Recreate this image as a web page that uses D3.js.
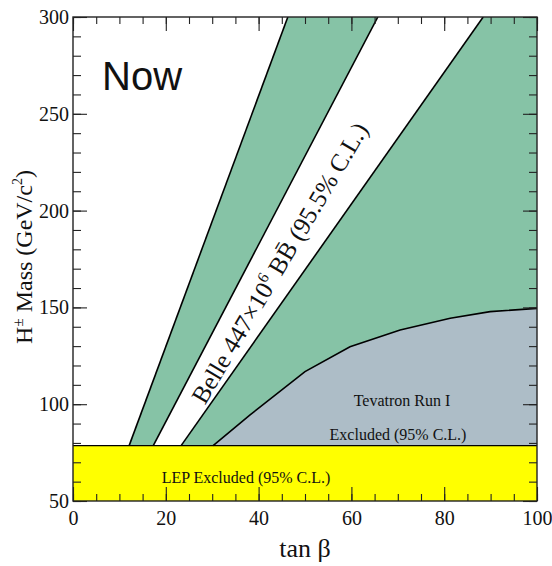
<!DOCTYPE html>
<html>
<head>
<meta charset="utf-8">
<script src="https://cdn.jsdelivr.net/npm/d3@7"></script>
<style>
body { margin: 0; background: #fff; }
text { font-family: "Liberation Serif", "Times New Roman", serif; fill: #111; }
</style>
</head>
<body>
<svg id="chart" width="552" height="566"></svg>
<script>
// values (tan beta, H+ mass)
var lepLimit = 78.6;
var belleLeft = [[12.1, 78.6], [46.3, 300]];
var belleMid = [[17.3, 78.6], [65.7, 300]];
var belleRight = [[23.3, 78.6], [88.4, 300]];
var tevatron = [[30.2, 78.6], [38.1, 94.4], [50.0, 116.8], [59.7, 129.7], [70.5, 138.3], [81.3, 144.4], [89.9, 147.8], [100, 149.5]];
var xTicks = [0, 20, 40, 60, 80, 100];
var yTicks = [50, 100, 150, 200, 250, 300];

var green = '#86c3a6';
var grey = '#adbdc7';
var yellow = '#ffff00';

// plot box (window.top is taken, so own names)
var pLeft = 73, pRight = 537, pTop = 17, pBottom = 501;

var svg = d3.select('#chart');

var x = d3.scaleLinear().domain([0, 100]).range([pLeft, pRight]);
var y = d3.scaleLinear().domain([50, 300]).range([pBottom, pTop]);

var line = d3.line()
    .x(function(d) { return x(d[0]); })
    .y(function(d) { return y(d[1]); });

svg.append('clipPath').attr('id', 'plot')
    .append('rect')
    .attr('x', pLeft).attr('y', pTop)
    .attr('width', pRight - pLeft).attr('height', pBottom - pTop);

var g = svg.append('g').attr('clip-path', 'url(#plot)');

// green band between the first two belle lines
g.append('path')
    .attr('d', line(belleLeft.concat(belleMid.slice().reverse())) + 'Z')
    .attr('fill', green);

// green area right of third line, above tevatron
g.append('path')
    .attr('d', line(belleRight.concat([[100, 300]]).concat(tevatron.slice().reverse())) + 'Z')
    .attr('fill', green);

// tevatron excluded
g.append('path')
    .attr('d', line(tevatron.concat([[100, lepLimit]])) + 'Z')
    .attr('fill', grey);

// LEP excluded
g.append('rect')
    .attr('x', x(0)).attr('y', y(lepLimit))
    .attr('width', x(100) - x(0)).attr('height', y(50) - y(lepLimit))
    .attr('fill', yellow);

// boundary lines
[belleLeft, belleMid, belleRight, tevatron].forEach(function(l) {
    g.append('path')
        .attr('d', line(l))
        .attr('fill', 'none')
        .attr('stroke', '#000')
        .attr('stroke-width', 1.6);
});
g.append('path')
    .attr('d', line([[0, lepLimit], [100, lepLimit]]))
    .attr('stroke', '#000').attr('stroke-width', 1.4);

// ticks on all four sides, pointing in
function ticks(axis, tr, vals, size, labels) {
    var a = svg.append('g').attr('transform', tr)
        .call(axis.tickValues(vals).tickSizeInner(-size).tickSizeOuter(0).tickPadding(labels ? size + 4 : 0));
    a.select('.domain').remove();
    a.selectAll('line').attr('stroke', '#222').attr('stroke-width', 1.1);
    if (!labels) a.selectAll('text').remove();
    return a;
}
var xMinor = d3.range(0, 101, 5), yMinor = d3.range(50, 301, 10);

ticks(d3.axisBottom(x), 'translate(0,' + pBottom + ')', xMinor, 7, false);
ticks(d3.axisTop(x), 'translate(0,' + pTop + ')', xMinor, 7, false);
ticks(d3.axisLeft(y), 'translate(' + pLeft + ',0)', yMinor, 8, false);
ticks(d3.axisRight(y), 'translate(' + pRight + ',0)', yMinor, 8, false);

var xb = ticks(d3.axisBottom(x), 'translate(0,' + pBottom + ')', xTicks, 14, true);
ticks(d3.axisTop(x), 'translate(0,' + pTop + ')', xTicks, 14, false);
var yl = ticks(d3.axisLeft(y), 'translate(' + pLeft + ',0)', yTicks, 14, true);
ticks(d3.axisRight(y), 'translate(' + pRight + ',0)', yTicks, 14, false);

xb.selectAll('text').attr('y', 10).attr('dy', '0.71em')
    .style('font-family', '"Liberation Serif", serif').style('font-size', '20px').attr('fill', '#111');
yl.selectAll('text').attr('x', -4)
    .style('font-family', '"Liberation Serif", serif').style('font-size', '20px').attr('fill', '#111');

// frame
svg.append('rect')
    .attr('x', pLeft).attr('y', pTop)
    .attr('width', pRight - pLeft).attr('height', pBottom - pTop)
    .attr('fill', 'none').attr('stroke', '#222').attr('stroke-width', 1.4);

// axis titles
svg.append('text')
    .attr('x', 305).attr('y', 557)
    .attr('text-anchor', 'middle')
    .style('font-size', '26px')
    .text('tan \u03b2');

var yt = svg.append('text')
    .attr('transform', 'translate(32,257) rotate(-90)')
    .attr('text-anchor', 'middle')
    .style('font-size', '24px');
yt.append('tspan').text('H');
yt.append('tspan').attr('dy', -9).style('font-size', '15px').text('\u00b1');
yt.append('tspan').attr('dy', 9).text(' Mass (GeV/c');
yt.append('tspan').attr('dy', -10).style('font-size', '14px').text('2');
yt.append('tspan').attr('dy', 10).text(')');

// "Now"
svg.append('text')
    .attr('x', 102).attr('y', 90)
    .style('font-family', '"Liberation Sans", Arial, sans-serif')
    .style('font-size', '40px')
    .attr('fill', '#000')
    .text('Now');

// belle label along the white band
function tanAt(l, m) {
    var t = (m - l[0][1]) / (l[1][1] - l[0][1]);
    return l[0][0] + t * (l[1][0] - l[0][0]);
}
var midMass = 173;
var bx = x((tanAt(belleMid, midMass) + tanAt(belleRight, midMass)) / 2);
var by = y(midMass);
var bt = svg.append('text')
    .attr('transform', 'translate(' + bx + ',' + by + ') rotate(-59.3)')
    .attr('text-anchor', 'middle')
    .attr('dy', '0.35em')
    .style('font-size', '25px');
bt.append('tspan').text('Belle 447\u00d710');
bt.append('tspan').attr('dy', -10).style('font-size', '16px').text('6');
bt.append('tspan').attr('dy', 10).text(' BB\u0304 (95.5% C.L.)');

// region labels
svg.append('text').attr('x', 402).attr('y', 406).attr('text-anchor', 'middle')
    .style('font-size', '16px').text('Tevatron Run I');
svg.append('text').attr('x', 398).attr('y', 440).attr('text-anchor', 'middle')
    .style('font-size', '16px').text('Excluded (95% C.L.)');
svg.append('text').attr('x', 246).attr('y', 483).attr('text-anchor', 'middle')
    .style('font-size', '16px').text('LEP Excluded (95% C.L.)');
</script>
</body>
</html>
